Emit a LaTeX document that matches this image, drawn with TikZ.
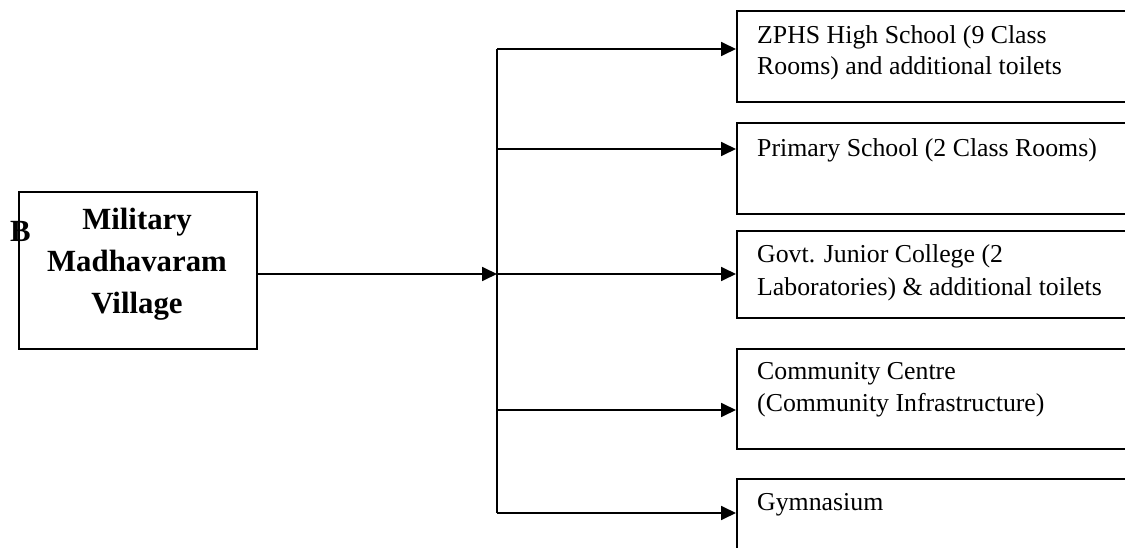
\documentclass[tikz,border=0pt]{standalone}
\usepackage{fontspec}
\setmainfont{Liberation Serif}
\usetikzlibrary{arrows.meta}
\begin{document}
\begin{tikzpicture}[x=1pt,y=-1pt,
  box/.style={draw=black,line width=1.8pt,rectangle,inner sep=0pt,anchor=north west},
  txt/.style={inner sep=0pt,anchor=base west,font=\fontsize{25.8}{30}\selectfont},
  btxt/.style={inner sep=0pt,anchor=base,font=\fontsize{30.8}{41}\selectfont\bfseries},
  wire/.style={line width=1.8pt,draw=black},
  arr/.style={wire,-{Triangle[length=15pt,width=14pt]}}]
\useasboundingbox (0,0) rectangle (1125,548);
\clip (0,0) rectangle (1125,548);
% left box
\node[box,minimum width=238pt,minimum height=157pt] (L) at (18,191) {};
\node[btxt] (L1) at (137,230) {Military};
\node[btxt] (L2) at (137,272) {Madhavaram};
\node[btxt] (L3) at (137,313) {Village};
\node[btxt,anchor=base west] (B) at (10,242) {B};
% right boxes
\node[box,minimum width=420pt,minimum height=91pt] (b1) at (736,10) {};
\node[box,minimum width=420pt,minimum height=91pt] (b2) at (736,122) {};
\node[box,minimum width=420pt,minimum height=87pt] (b3) at (736,230) {};
\node[box,minimum width=420pt,minimum height=100pt] (b4) at (736,348) {};
\node[box,minimum width=420pt,minimum height=120pt] (b5) at (736,478) {};
\node[txt] (t1a) at (757,44) {ZPHS High School (9 Class};
\node[txt] (t1b) at (757,75) {Rooms) and additional toilets};
\node[txt] (t2a) at (757,157) {Primary School (2 Class Rooms)};
\node[txt] (t3a) at (757,263) {Govt. Junior College (2};
\node[txt] (t3b) at (757,295) {Laboratories) \& additional toilets};
\node[txt] (t4a) at (757,379) {Community Centre};
\node[txt] (t4b) at (757,411) {(Community Infrastructure)};
\node[txt] (t5a) at (757,510) {Gymnasium};
% junction points
\coordinate (j1) at (497,49);
\coordinate (j2) at (497,149);
\coordinate (j3) at (497,274);
\coordinate (j4) at (497,410);
\coordinate (j5) at (497,513);
% connectors
\draw[arr] (L.east |- j3) -- (j3);
\draw[wire] (j1) -- (j5);
\draw[arr] (j1) -- (j1 -| b1.west);
\draw[arr] (j2) -- (j2 -| b2.west);
\draw[arr] (j3) -- (j3 -| b3.west);
\draw[arr] (j4) -- (j4 -| b4.west);
\draw[arr] (j5) -- (j5 -| b5.west);
\end{tikzpicture}
\end{document}
